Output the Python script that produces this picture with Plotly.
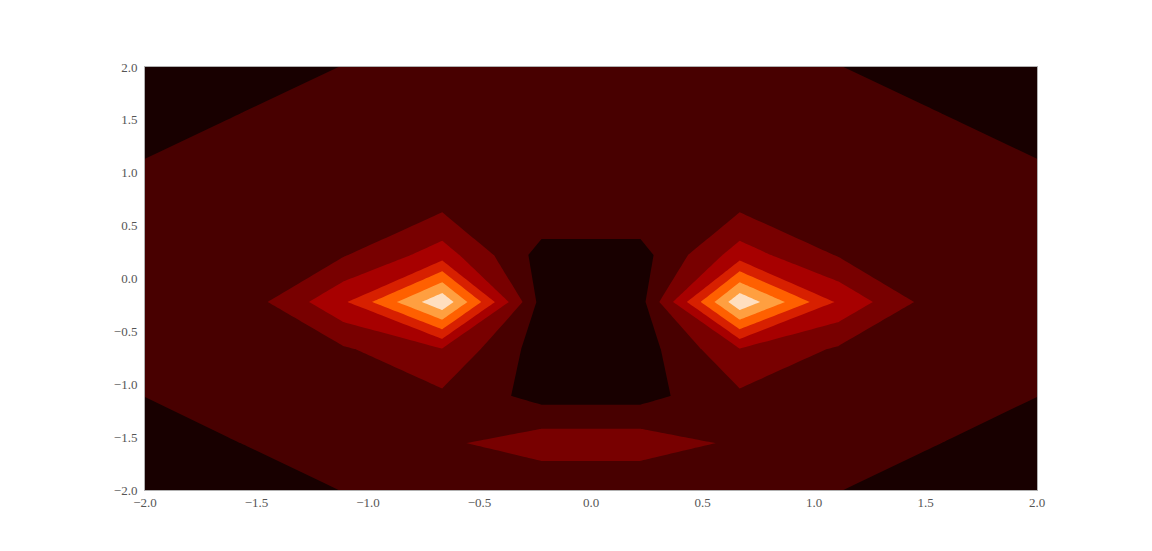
import plotly.graph_objects as go

# grid (10 x 10) of the sampled surface
xs = [-2.0, -1.556, -1.111, -0.667, -0.222, 0.222, 0.667, 1.111, 1.556, 2.0]
ys = [-2.0, -1.556, -1.111, -0.667, -0.222, 0.222, 0.667, 1.111, 1.556, 2.0]

# rows go from y = -2 (bottom) up to y = 2 (top)
z_rows = [
    [0.5, 0.8, 1.01, 1.05, 1.02, 1.02, 1.05, 1.01, 0.8, 0.5],
    [0.8, 1.008, 1.3, 1.81, 2.6, 2.6, 1.81, 1.3, 1.008, 0.8],
    [1.004, 1.2, 1.5, 1.82, 0.64, 0.64, 1.82, 1.5, 1.2, 1.004],
    [1.15, 1.4, 1.87, 2.95, 0.5, 0.5, 2.95, 1.87, 1.4, 1.15],
    [1.2, 1.42, 3.83, 7.83, 0.63, 0.63, 7.83, 3.83, 1.42, 1.2],
    [1.2, 1.5, 1.92, 3.5, 0.62, 0.62, 3.5, 1.92, 1.5, 1.2],
    [1.15, 1.35, 1.6, 1.85, 1.74, 1.74, 1.85, 1.6, 1.35, 1.15],
    [1.01, 1.2, 1.4, 1.55, 1.6, 1.6, 1.55, 1.4, 1.2, 1.01],
    [0.8, 1.01, 1.2, 1.35, 1.4, 1.4, 1.35, 1.2, 1.01, 0.8],
    [0.5, 0.8, 1.01, 1.15, 1.2, 1.2, 1.15, 1.01, 0.8, 0.5],
]

# 8 filled bands, gist_heat style
band_colors = ["#180000", "#480000", "#780000", "#a70000",
               "#d72000", "#ff6000", "#ff9f40", "#ffdfbf"]
tick_vals = [-2.0, -1.5, -1.0, -0.5, 0.0, 0.5, 1.0, 1.5, 2.0]

n = len(band_colors) - 1
colorscale = [[k / n, c] for k, c in enumerate(band_colors)]

fig = go.Figure(go.Contour(
    x=xs,
    y=ys,
    z=z_rows,
    autocontour=False,
    contours=dict(start=1, end=7, size=1, coloring="fill"),
    colorscale=colorscale,
    line=dict(width=0, smoothing=0),
    showscale=False,
    hoverinfo="skip",
))

axis_style = dict(
    range=[-2, 2],
    tickvals=tick_vals,
    tickformat=".1f",
    showgrid=False,
    zeroline=False,
    showline=True,
    mirror=True,
    linecolor="#b0b0b0",
    linewidth=1,
    ticks="",
    tickfont=dict(family="Liberation Serif", size=13, color="#555555"),
)

# page body adds an 8px offset, so the figure is slightly smaller than the window
fig.update_layout(
    width=1144,
    height=543,
    margin=dict(l=137, r=115, t=59, b=61),
    paper_bgcolor="white",
    plot_bgcolor="white",
    xaxis=dict(axis_style, ticklabelstandoff=0),
    yaxis=dict(axis_style, ticklabelstandoff=4),
)

fig.write_html("out.html")
